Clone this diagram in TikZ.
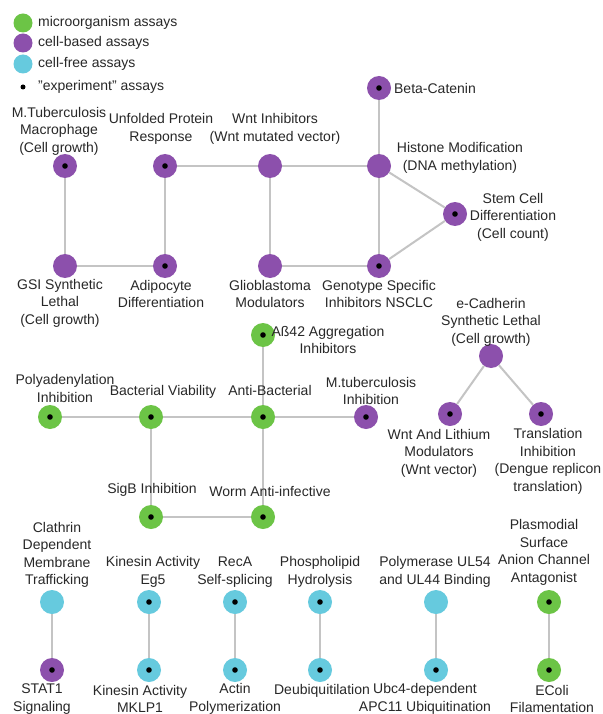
\documentclass[tikz,border=0pt]{standalone}
\usepackage{fontspec}
\setmainfont{Liberation Sans}
\definecolor{cgreen}{RGB}{108,196,70}
\definecolor{cpur}{RGB}{140,80,172}
\definecolor{ccyan}{RGB}{102,202,222}
\definecolor{cedge}{RGB}{196,196,196}
\definecolor{ctext}{RGB}{40,40,40}
\begin{document}
\begin{tikzpicture}[x=1pt,y=-1pt,
  nd/.style={circle, minimum size=24pt, inner sep=0pt, draw=none},
  grn/.style={nd, fill=cgreen},
  pur/.style={nd, fill=cpur},
  cyn/.style={nd, fill=ccyan},
  hasdot/.style={path picture={\fill[black] (path picture bounding box.center) circle (2.8pt);}},
  lbl/.style={align=center, text=ctext, font=\fontsize{14}{17.5}\selectfont, inner sep=0pt},
  lgc/.style={circle, minimum size=19pt, inner sep=0pt},
  conn/.style={draw=cedge, line width=2pt}]
\useasboundingbox (0,0) rectangle (602,714);
\fill[white] (0,0) rectangle (602,714);

% legend
\node[lgc, fill=cgreen] (lg1) at (23,23) {};
\node[lgc, fill=cpur] (lg2) at (23,43) {};
\node[lgc, fill=ccyan] (lg3) at (23,64) {};
\node[circle, fill=black, minimum size=5pt, inner sep=0pt] (lg4) at (23,87) {};
\node[lbl, anchor=west] (lt1) at (38,23) {microorganism assays};
\node[lbl, anchor=west] (lt2) at (38,43) {cell-based assays};
\node[lbl, anchor=west] (lt3) at (38,64) {cell-free assays};
\node[lbl, anchor=west] (lt4) at (38,87) {"experiment" assays};

% top cluster
\node[pur, hasdot] (mtb) at (65,166) {};
\node[pur, hasdot] (upr) at (165,166) {};
\node[pur] (wnt) at (270,166) {};
\node[pur] (his) at (379,166) {};
\node[pur, hasdot] (beta) at (379,88) {};
\node[pur, hasdot] (stem) at (455,214) {};
\node[pur, hasdot] (geno) at (379,266) {};
\node[pur] (glio) at (270,266) {};
\node[pur, hasdot] (adipo) at (165,266) {};
\node[pur] (gsi) at (65,266) {};

\draw[conn] (mtb) -- (gsi);
\draw[conn] (gsi) -- (adipo);
\draw[conn] (upr) -- (adipo);
\draw[conn] (upr) -- (wnt);
\draw[conn] (wnt) -- (his);
\draw[conn] (wnt) -- (glio);
\draw[conn] (glio) -- (geno);
\draw[conn] (his) -- (geno);
\draw[conn] (beta) -- (his);
\draw[conn] (his) -- (stem);
\draw[conn] (stem) -- (geno);

\node[lbl] (lmtb) at (59,131) {M.Tuberculosis\\Macrophage\\(Cell growth)};
\node[lbl] (lupr) at (161,129) {Unfolded Protein\\Response};
\node[lbl] (lwnt) at (275,129) {Wnt Inhibitors\\(Wnt mutated vector)};
\node[lbl] (lhis) at (460,158) {Histone Modification\\(DNA methylation)};
\node[lbl] (lbeta) at (435,88) {Beta-Catenin};
\node[lbl] (lstem) at (513,217) {Stem Cell\\Differentiation\\(Cell count)};
\node[lbl] (lgeno) at (379,294) {Genotype Specific\\Inhibitors NSCLC};
\node[lbl] (lglio) at (270,294) {Glioblastoma\\Modulators};
\node[lbl] (ladipo) at (161,294) {Adipocyte\\Differentiation};
\node[lbl] (lgsi) at (60,303) {GSI Synthetic\\Lethal\\(Cell growth)};

% middle cluster
\node[grn, hasdot] (abeta) at (263,335) {};
\node[grn, hasdot] (poly) at (50,417) {};
\node[grn, hasdot] (bact) at (151,417) {};
\node[grn, hasdot] (anti) at (263,417) {};
\node[pur, hasdot] (mtbi) at (366,417) {};
\node[grn, hasdot] (sigb) at (151,517) {};
\node[grn, hasdot] (worm) at (263,517) {};

\draw[conn] (abeta) -- (anti);
\draw[conn] (poly) -- (bact);
\draw[conn] (bact) -- (anti);
\draw[conn] (anti) -- (mtbi);
\draw[conn] (bact) -- (sigb);
\draw[conn] (anti) -- (worm);
\draw[conn] (sigb) -- (worm);

\node[lbl] (labeta) at (328,340) {Aß42 Aggregation\\Inhibitors};
\node[lbl] (lpoly) at (65,388.5) {Polyadenylation\\Inhibition};
\node[lbl] (lbact) at (163,392) {Bacterial Viability};
\node[lbl] (lanti) at (270,390) {Anti-Bacterial};
\node[lbl] (lmtbi) at (371,391) {M.tuberculosis\\Inhibition};
\node[lbl] (lsigb) at (152,490) {SigB Inhibition};
\node[lbl] (lworm) at (270,491) {Worm Anti-infective};

% right cluster
\node[pur] (ecad) at (491,356) {};
\node[pur, hasdot] (wntli) at (450,414) {};
\node[pur, hasdot] (trans) at (541,414) {};
\draw[conn] (ecad) -- (wntli);
\draw[conn] (ecad) -- (trans);
\node[lbl] (lecad) at (491,322) {e-Cadherin\\Synthetic Lethal\\(Cell growth)};
\node[lbl] (lwntli) at (439,453) {Wnt And Lithium\\Modulators\\(Wnt vector)};
\node[lbl] (ltrans) at (548,461.5) {Translation\\Inhibition\\(Dengue replicon\\translation)};

% bottom row
\node[cyn] (clath) at (52,602) {};
\node[pur, hasdot] (stat) at (52,670) {};
\node[cyn, hasdot] (kin1) at (149,602) {};
\node[cyn, hasdot] (kin2) at (149,670) {};
\node[cyn, hasdot] (reca) at (235,602) {};
\node[cyn, hasdot] (actin) at (235,670) {};
\node[cyn, hasdot] (phos) at (320,602) {};
\node[cyn, hasdot] (deub) at (320,670) {};
\node[cyn] (polyb) at (436,602) {};
\node[cyn, hasdot] (ubc) at (436,670) {};
\node[grn, hasdot] (plas) at (549,602) {};
\node[grn, hasdot] (ecoli) at (549,670) {};

\draw[conn] (clath) -- (stat);
\draw[conn] (kin1) -- (kin2);
\draw[conn] (reca) -- (actin);
\draw[conn] (phos) -- (deub);
\draw[conn] (polyb) -- (ubc);
\draw[conn] (plas) -- (ecoli);

\node[lbl] (lclath) at (57,555) {Clathrin\\Dependent\\Membrane\\Trafficking};
\node[lbl] (lstat) at (42,699) {STAT1\\Signaling};
\node[lbl] (lkin1) at (153,572) {Kinesin Activity\\Eg5};
\node[lbl] (lkin2) at (140,699) {Kinesin Activity\\MKLP1};
\node[lbl] (lreca) at (235,572) {RecA\\Self-splicing};
\node[lbl] (lactin) at (235,699) {Actin\\Polymerization};
\node[lbl] (lphos) at (320,572) {Phospholipid\\Hydrolysis};
\node[lbl] (ldeub) at (322,691) {Deubiquitilation};
\node[lbl] (lpolyb) at (435,572) {Polymerase UL54\\and UL44 Binding};
\node[lbl] (lubc) at (425,699) {Ubc4-dependent\\APC11 Ubiquitination};
\node[lbl] (lplas) at (544,552.5) {Plasmodial\\Surface\\Anion Channel\\Antagonist};
\node[lbl] (lecoli) at (552,699) {EColi\\Filamentation};
\end{tikzpicture}
\end{document}
